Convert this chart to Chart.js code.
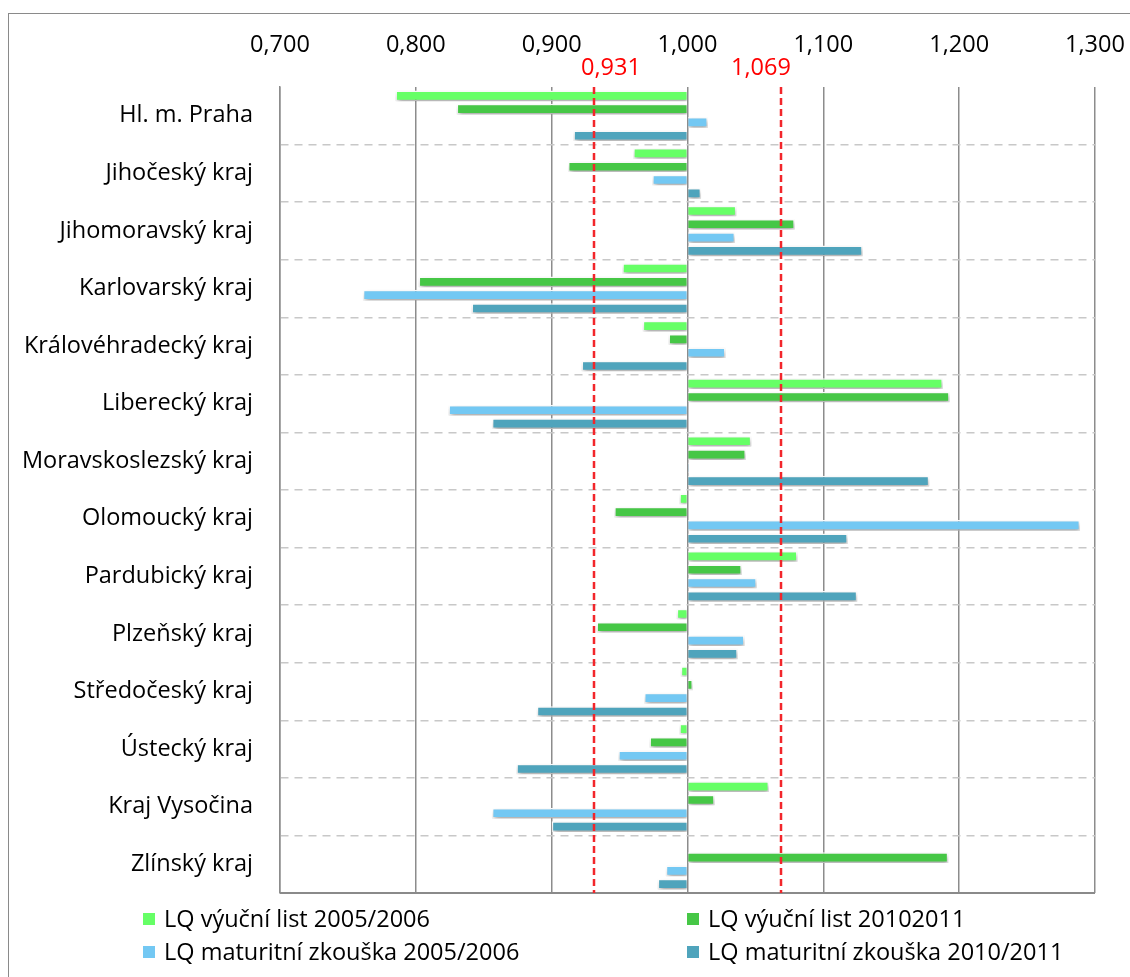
<!DOCTYPE html>
<html>
<head>
<meta charset="utf-8">
<script src="https://cdn.jsdelivr.net/npm/chart.js@4.4.1/dist/chart.umd.min.js"></script>
<style>
  html, body { margin: 0; padding: 0; background: #fff; overflow: hidden; }
  #frame { position: absolute; left: 8px; top: 13px; width: 1300px; height: 1100px;
           border: 1.5px solid #8a8a8a; box-sizing: border-box; }
  #wrap { position: absolute; left: 0; top: 0; width: 1130px; height: 977px; }
  #legend { position: absolute; left: 0; top: 902px; width: 1130px;
            font: 23.5px "Open Sans", sans-serif; color: #000; }
  .item { position: absolute; height: 33px; line-height: 33px; white-space: nowrap; }
  .box { display: inline-block; width: 12px; height: 12px; margin-right: 9px;
         vertical-align: middle; position: relative; top: -2px; }
</style>
</head>
<body>
<div id="frame"></div>
<div id="wrap"><canvas id="chart"></canvas></div>
<div id="legend"></div>
<script>
const categories = ['Hl. m. Praha', 'Jihočeský kraj', 'Jihomoravský kraj', 'Karlovarský kraj',
  'Královéhradecký kraj', 'Liberecký kraj', 'Moravskoslezský kraj', 'Olomoucký kraj',
  'Pardubický kraj', 'Plzeňský kraj', 'Středočeský kraj', 'Ústecký kraj', 'Kraj Vysočina', 'Zlínský kraj'];

const vyucni2005 = [0.785, 0.960, 1.036, 0.952, 0.967, 1.188, 1.047, 0.994, 1.081, 0.992, 0.995, 0.994, 1.060, 1.000];
const vyucni2010 = [0.830, 0.912, 1.079, 0.802, 0.986, 1.193, 1.043, 0.946, 1.040, 0.933, 1.004, 0.972, 1.020, 1.192];
const maturita2005 = [1.015, 0.974, 1.035, 0.761, 1.028, 0.824, 1.001, 1.289, 1.051, 1.042, 0.968, 0.949, 0.856, 0.984];
const maturita2010 = [0.916, 1.010, 1.129, 0.841, 0.922, 0.856, 1.178, 1.118, 1.125, 1.037, 0.889, 0.874, 0.900, 0.978];

const tickLabels = ['0,700', '0,800', '0,900', '1,000', '1,100', '1,200', '1,300'];
const thresholds = [0.931, 1.069];
const thresholdLabels = ['0,931', '1,069'];

const FONT = { family: '"Open Sans", sans-serif', size: 23.5 };
Chart.defaults.color = '#000';
Chart.defaults.font = FONT;

function series(label, data, color) {
  return {
    label, data, base: 1,
    backgroundColor: color,
    borderColor: '#fff',
    borderWidth: 1.5,
    barPercentage: 0.8,
    categoryPercentage: 0.925
  };
}

// soft drop shadow under the bars
const shadowPlugin = {
  id: 'shadow',
  beforeDatasetsDraw(chart) {
    const ctx = chart.ctx;
    ctx.save();
    ctx.shadowColor = 'rgba(0,0,0,0.35)';
    ctx.shadowBlur = 5;
    ctx.shadowOffsetX = 1;
    ctx.shadowOffsetY = 3;
  },
  afterDatasetsDraw(chart) {
    chart.ctx.restore();
  }
};

// red threshold lines, their labels and the bottom border of the plot
const thresholdPlugin = {
  id: 'thresholds',
  afterDatasetsDraw(chart) {
    const { ctx, chartArea: a, scales: { x } } = chart;
    ctx.save();
    ctx.strokeStyle = '#8a8a8a';
    ctx.lineWidth = 2;
    ctx.beginPath();
    ctx.moveTo(a.left, a.bottom);
    ctx.lineTo(a.right, a.bottom);
    ctx.stroke();

    ctx.strokeStyle = '#f2262b';
    ctx.lineWidth = 2.5;
    ctx.setLineDash([7, 4]);
    thresholds.forEach((t, i) => {
      const px = Math.round(x.getPixelForValue(t));
      ctx.beginPath();
      ctx.moveTo(px, a.top);
      ctx.lineTo(px, a.bottom);
      ctx.stroke();
      ctx.fillStyle = '#ff0000';
      ctx.font = '23.5px "Open Sans", sans-serif';
      ctx.textAlign = 'center';
      ctx.textBaseline = 'middle';
      ctx.fillText(thresholdLabels[i], px + (i === 0 ? 17 : -20), a.top - 19);
    });
    ctx.restore();
  }
};

const chart = new Chart(document.getElementById('chart'), {
  type: 'bar',
  data: {
    labels: categories,
    datasets: [
      series('LQ výuční list 2005/2006', vyucni2005, '#66ff66'),
      series('LQ výuční list 20102011', vyucni2010, '#46c746'),
      series('LQ maturitní zkouška 2005/2006', maturita2005, '#73c8f3'),
      series('LQ maturitní zkouška 2010/2011', maturita2010, '#4fa4bc')
    ]
  },
  options: {
    indexAxis: 'y',
    responsive: true,
    maintainAspectRatio: false,
    animation: false,
    layout: { padding: { top: 0, right: 35, bottom: 84, left: 0 } },
    plugins: { legend: { display: false }, tooltip: { enabled: false } },
    scales: {
      x: {
        position: 'top',
        min: 0.7,
        max: 1.3,
        ticks: {
          stepSize: 0.1,
          padding: 28,
          callback: (v, i) => tickLabels[i]
        },
        grid: { color: '#8c8c8c', lineWidth: 1.5, drawTicks: false },
        border: { display: false },
        afterFit: s => { s.height = 87; s.paddingLeft = 0; s.paddingRight = 0; }
      },
      y: {
        ticks: { padding: 27 },
        grid: {
          drawTicks: false,
          lineWidth: 1.5,
          color: c => (c.type === 'tick' && c.index > 0) ? '#c8c8c8' : 'rgba(0,0,0,0)'
        },
        border: { display: true, color: '#8c8c8c', width: 1.5, dash: [8, 6] },
        afterFit: s => { s.width = 280; s.paddingTop = 0; s.paddingBottom = 0; }
      }
    }
  },
  plugins: [shadowPlugin, thresholdPlugin]
});

// two-column legend like the original
const legend = document.getElementById('legend');
const cols = [143, 687];
chart.data.datasets.forEach((ds, i) => {
  const el = document.createElement('div');
  el.className = 'item';
  el.style.left = cols[i % 2] + 'px';
  el.style.top = (Math.floor(i / 2) * 33) + 'px';
  el.innerHTML = '<span class="box" style="background:' + ds.backgroundColor + '"></span>' + ds.label;
  legend.appendChild(el);
});
</script>
</body>
</html>
